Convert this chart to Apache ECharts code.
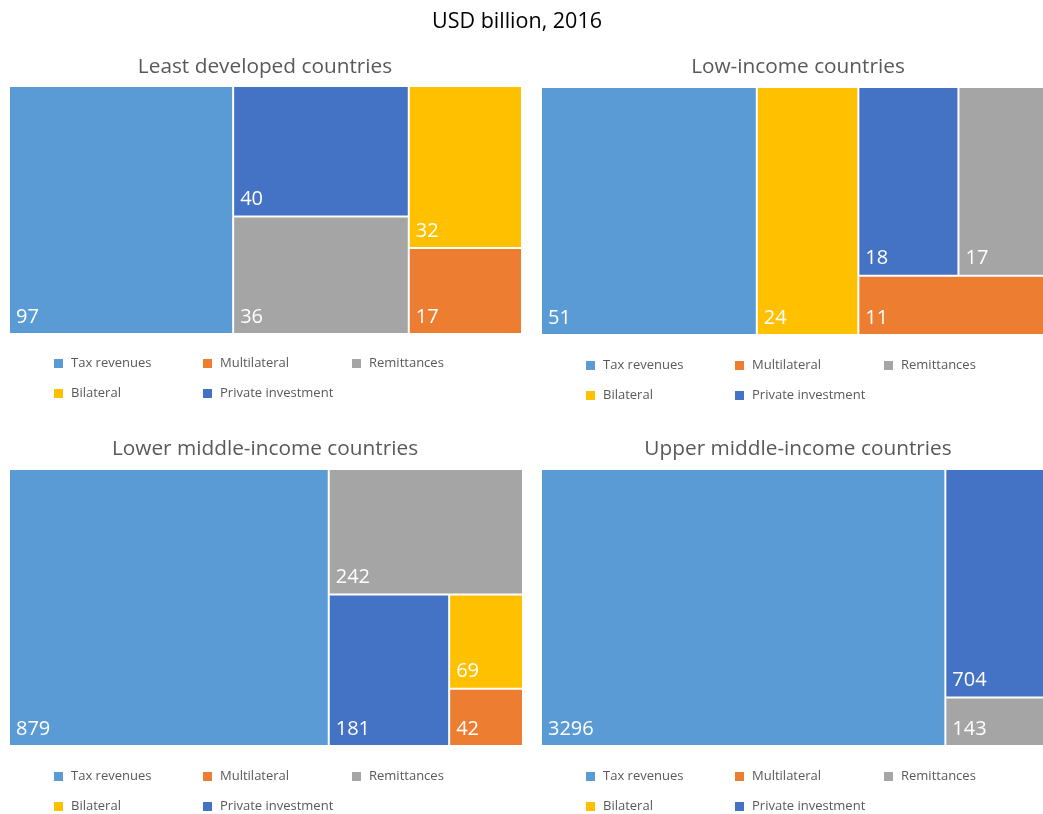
<!DOCTYPE html>
<html>
<head>
<meta charset="utf-8">
<title>USD billion, 2016</title>
<script src="https://cdn.jsdelivr.net/npm/echarts@6/dist/echarts.min.js"></script>
<style>
  html, body { margin: 0; padding: 0; background: #fff; }
  #chart { width: 1043px; height: 814px; }
</style>
</head>
<body>
<div id="chart"></div>
<script>
// Financing flows by country group, USD billion, 2016
const categories = ['Tax revenues', 'Multilateral', 'Remittances', 'Bilateral', 'Private investment'];
const categoryColors = ['#5B9BD5', '#ED7D31', '#A5A5A5', '#FFC000', '#4472C4'];

const panelTitles = [
  'Least developed countries',
  'Low-income countries',
  'Lower middle-income countries',
  'Upper middle-income countries'
];

// values follow the order of `categories`
const leastDevelopedValues = [97, 17, 36, 32, 40];
const lowIncomeValues = [51, 11, 17, 24, 18];
const lowerMiddleIncomeValues = [879, 42, 242, 69, 181];
const upperMiddleIncomeValues = [3296, 3, 143, 3, 704];

const FONT = '"Open Sans", "Noto Sans", sans-serif';

// Build the treemap nodes, largest first. When `blockFrom` is given,
// the items from that rank on are laid out together as one block.
function buildNodes(values, blockFrom) {
  const items = categories.map((name, i) => ({
    name: name,
    value: values[i],
    itemStyle: { color: categoryColors[i] }
  })).sort((a, b) => b.value - a.value);
  if (blockFrom == null) return items;
  const head = items.slice(0, blockFrom);
  const tail = items.slice(blockFrom);
  head.push({
    name: '',
    value: tail.reduce((s, d) => s + d.value, 0),
    itemStyle: { color: '#ffffff', borderWidth: 0, gapWidth: 2 },
    children: tail
  });
  return head;
}

const panels = [
  { values: leastDevelopedValues, block: null, left: 10, top: 87, width: 511, height: 246, titleX: 260, titleY: 62, legendX: 49, legendY: 351 },
  { values: lowIncomeValues, block: 2, left: 542, top: 88, width: 510, height: 246, titleX: 793, titleY: 62, legendX: 581, legendY: 353 },
  { values: lowerMiddleIncomeValues, block: null, left: 10, top: 470, width: 512, height: 275, titleX: 260, titleY: 444, legendX: 49, legendY: 764 },
  { values: upperMiddleIncomeValues, block: null, left: 542, top: 470, width: 507, height: 275, titleX: 793, titleY: 444, legendX: 581, legendY: 764 }
];

const chart = echarts.init(document.getElementById('chart'), null, { renderer: 'canvas' });

const titles = [{
  text: 'USD billion, 2016',
  left: 512,
  top: 6,
  textAlign: 'center',
  textStyle: { fontFamily: FONT, fontSize: 21.5, fontWeight: 'normal', color: '#000000' }
}];

const series = [];
const legends = [];

panels.forEach((p, k) => {
  titles.push({
    text: panelTitles[k],
    left: p.titleX,
    top: p.titleY,
    textAlign: 'center',
    textVerticalAlign: 'middle',
    textStyle: { fontFamily: FONT, fontSize: 20.8, fontWeight: 'normal', color: '#595959' }
  });

  series.push({
    type: 'treemap',
    name: panelTitles[k],
    left: p.left,
    top: p.top,
    width: p.width,
    height: p.height,
    roam: false,
    nodeClick: false,
    sort: false,
    squareRatio: 1,
    breadcrumb: { show: false },
    visibleMin: 0,
    itemStyle: { borderWidth: 0, gapWidth: 2, borderColor: '#ffffff' },
    label: {
      show: true,
      position: 'insideBottomLeft',
      distance: 0,
      padding: [0, 0, 6, 6],
      color: '#ffffff',
      fontFamily: FONT,
      fontSize: 20,
      formatter: '{c}'
    },
    upperLabel: { show: false },
    emphasis: { disabled: true },
    data: buildNodes(p.values, p.block)
  });

  legends.push({
    left: p.legendX,
    top: p.legendY,
    width: 460,
    orient: 'horizontal',
    icon: 'rect',
    itemWidth: 9,
    itemHeight: 9,
    itemGap: 15,
    selectedMode: false,
    data: categories,
    textStyle: {
      fontFamily: FONT,
      fontSize: 13,
      color: '#595959',
      width: 117,
      lineHeight: 15,
      padding: [0, 0, 0, 3]
    }
  });
});

// Legend entries: one empty series per category on a hidden grid
categories.forEach((name, i) => {
  series.push({
    type: 'line',
    name: name,
    data: [],
    color: categoryColors[i],
    itemStyle: { color: categoryColors[i] },
    lineStyle: { color: categoryColors[i] }
  });
});

chart.setOption({
  animation: false,
  backgroundColor: '#ffffff',
  title: titles,
  legend: legends,
  grid: { left: -200, top: -200, width: 10, height: 10, show: false },
  xAxis: { type: 'value', show: false },
  yAxis: { type: 'value', show: false },
  series: series
});
</script>
</body>
</html>
